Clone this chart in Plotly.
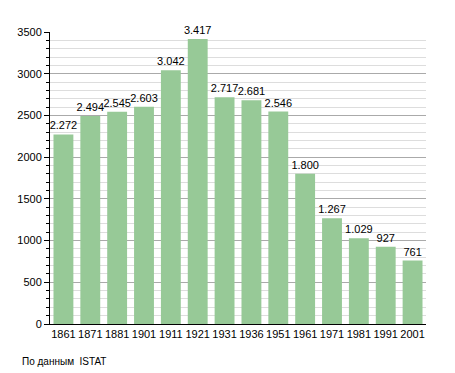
import plotly.graph_objects as go

years = ["1861", "1871", "1881", "1901", "1911", "1921", "1931", "1936", "1951", "1961", "1971", "1981", "1991", "2001"]
population = [2272, 2494, 2545, 2603, 3042, 3417, 2717, 2681, 2546, 1800, 1267, 1029, 927, 761]
labels = [f"{v:,}".replace(",", ".") for v in population]
y_ticks = [0, 500, 1000, 1500, 2000, 2500, 3000, 3500]

fig = go.Figure()
fig.add_trace(go.Bar(
    x=years, y=population, text=labels, textposition="outside",
    textfont=dict(size=11, color="#000000"), constraintext="none",
    marker=dict(color="#97c997", line=dict(width=0)),
    cliponaxis=False,
))
fig.update_layout(
    width=455, height=373,
    margin=dict(l=50, r=29, t=32, b=49, autoexpand=False),
    paper_bgcolor="white", plot_bgcolor="white",
    font=dict(family="Liberation Sans, Arial, sans-serif", size=11, color="#000000"),
    bargap=0.26, showlegend=False,
    xaxis=dict(showline=True, linecolor="black", linewidth=1, ticks="", tickfont=dict(size=11), automargin=False),
    yaxis=dict(range=[0, 3500], tickvals=y_ticks, showline=True, linecolor="black", linewidth=1,
               ticks="outside", ticklen=5, tickcolor="black", showgrid=True, gridcolor="#aaaaaa", gridwidth=1,
               zeroline=False, automargin=False,
               minor=dict(dtick=100, showgrid=True, gridcolor="#dddddd", ticks="outside", ticklen=3, tickcolor="black")),
    annotations=[dict(text="По данным  ISTAT", xref="paper", yref="paper", x=-0.08, y=-0.13,
                      xanchor="left", yanchor="middle", showarrow=False, font=dict(size=10))],
)
fig.write_html("out.html", config={"displayModeBar": False},
               post_script="document.body.style.margin='0';document.body.style.overflow='hidden';")
